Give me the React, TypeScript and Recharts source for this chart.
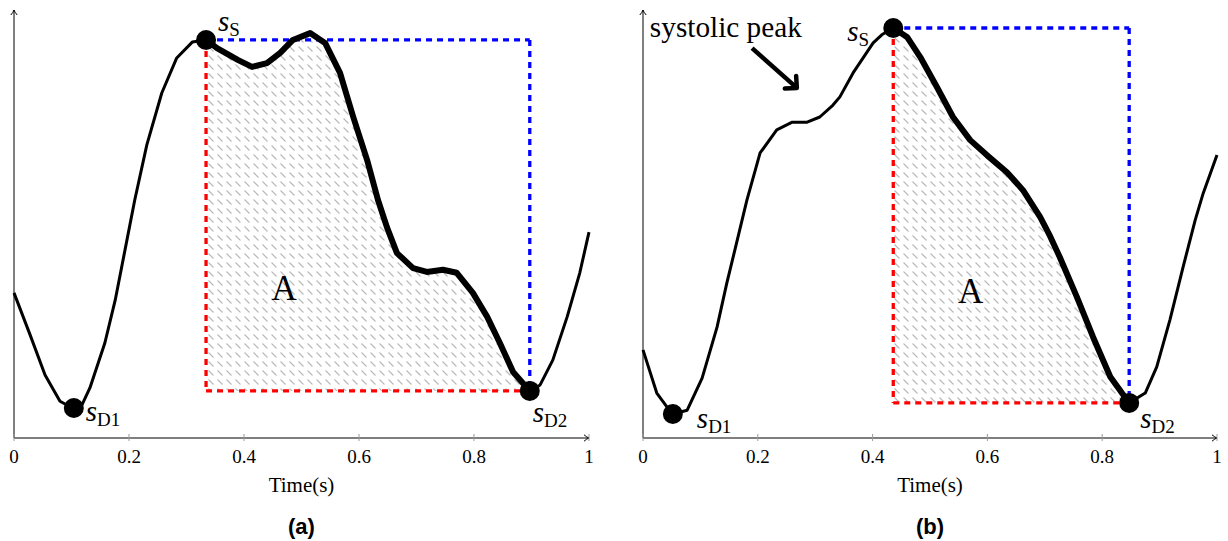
import {
  Area,
  ComposedChart,
  Line,
  ReferenceDot,
  ReferenceLine,
  XAxis,
  YAxis,
} from "recharts";

const SERIF = '"Liberation Serif", "DejaVu Serif", serif';
const SANS = '"Liberation Sans", Arial, sans-serif';

const TICKS = [0, 0.2, 0.4, 0.6, 0.8, 1];
const TICK_LABELS = ["0", "0.2", "0.4", "0.6", "0.8", "1"];

// panel (a): one pulse, time in s, amplitude normalised 0..1
const timeA = [
  0, 0.028, 0.054, 0.08, 0.092, 0.104, 0.118, 0.132, 0.158, 0.176, 0.193, 0.21, 0.231, 0.257, 0.283,
  0.31, 0.334, 0.353, 0.39, 0.414, 0.44, 0.463, 0.485, 0.515, 0.541, 0.567, 0.59, 0.614, 0.633,
  0.649, 0.666, 0.694, 0.718, 0.746, 0.77, 0.798, 0.823, 0.845, 0.868, 0.897, 0.915, 0.937, 0.962,
  0.984, 1,
];
const signalA = [
  0.339, 0.241, 0.147, 0.086, 0.077, 0.07, 0.077, 0.117, 0.222, 0.322, 0.439, 0.556, 0.685, 0.806,
  0.888, 0.925, 0.93, 0.911, 0.883, 0.867, 0.876, 0.9, 0.93, 0.946, 0.923, 0.853, 0.75, 0.65,
  0.556, 0.491, 0.432, 0.397, 0.388, 0.393, 0.386, 0.339, 0.283, 0.222, 0.154, 0.11, 0.124, 0.182,
  0.283, 0.386, 0.481,
];
// indices of s_D1, s_S, s_D2
const keyA = { d1: 5, s: 16, d2: 39 };

// panel (b)
const timeB = [
  0, 0.024, 0.042, 0.052, 0.077, 0.103, 0.129, 0.146, 0.16, 0.181, 0.204, 0.233, 0.26, 0.286, 0.308,
  0.331, 0.343, 0.366, 0.387, 0.401, 0.416, 0.436, 0.46, 0.483, 0.512, 0.54, 0.57, 0.599, 0.634,
  0.662, 0.692, 0.709, 0.726, 0.756, 0.784, 0.814, 0.847, 0.875, 0.895, 0.918, 0.941, 0.962, 0.976,
  1,
];
const signalB = [
  0.206, 0.105, 0.072, 0.056, 0.065, 0.14, 0.259, 0.362, 0.439, 0.556, 0.666, 0.72, 0.738, 0.738,
  0.75, 0.778, 0.797, 0.853, 0.895, 0.923, 0.942, 0.958, 0.937, 0.89, 0.82, 0.75, 0.696, 0.661,
  0.621, 0.579, 0.516, 0.472, 0.423, 0.329, 0.236, 0.143, 0.082, 0.105, 0.166, 0.276, 0.4, 0.509,
  0.572, 0.661,
];
const keyB = { d1: 3, s: 21, d2: 36 };

const areaLabelA = { t: 0.47, v: 0.322 };
const areaLabelB = { t: 0.571, v: 0.315 };
const peakNote = { text: "systolic peak", t: 0.012, v: 0.937 };
const peakArrow = [
  { x: 0.19, y: 0.911 },
  { x: 0.268, y: 0.818 },
];

type Key = { d1: number; s: number; d2: number };
type Offset = { dx: number; dy: number; sub: string };

function buildRows(time: number[], signal: number[], k: Key) {
  return time.map((t, i) => ({
    t,
    signal: signal[i],
    thick: i >= k.s && i <= k.d2 ? signal[i] : null,
  }));
}

function SubText({ x, y, sub }: { x: number; y: number; sub: string }) {
  return (
    <text x={x} y={y} fontFamily={SERIF} fill="#000">
      <tspan fontStyle="italic" fontSize={29}>
        s
      </tspan>
      <tspan fontSize={19} dy={5}>
        {sub}
      </tspan>
    </text>
  );
}

function TimeTick(props: any) {
  const { x, y, payload } = props;
  const i = TICKS.indexOf(payload.value);
  return (
    <g>
      <line x1={x} x2={x} y1={y - 4} y2={y + 3} stroke="#9a9a9a" strokeWidth={1} />
      <text x={x} y={y + 25} textAnchor="middle" fontFamily={SERIF} fontSize={19} fill="#000">
        {i >= 0 ? TICK_LABELS[i] : payload.value}
      </text>
    </g>
  );
}

function Panel({
  id,
  time,
  signal,
  k,
  left,
  yAxisWidth,
  marginRight,
  areaLabel,
  offsets,
  note,
}: {
  id: string;
  time: number[];
  signal: number[];
  k: Key;
  left: number;
  yAxisWidth: number;
  marginRight: number;
  areaLabel: { t: number; v: number };
  offsets: { d1: Offset; s: Offset; d2: Offset };
  note?: boolean;
}) {
  const rows = buildRows(time, signal, k);
  const tS = time[k.s];
  const yS = signal[k.s];
  const tD2 = time[k.d2];
  const yD2 = signal[k.d2];
  const dash = { strokeDasharray: "6 5", strokeWidth: 3.3 };

  const dot = (idx: number, o: Offset) => (
    <ReferenceDot
      x={time[idx]}
      y={signal[idx]}
      r={10}
      isFront
      shape={(p: any) => (
        <g>
          <circle cx={p.cx} cy={p.cy} r={10} fill="#000" />
          <SubText x={p.cx + o.dx} y={p.cy + o.dy} sub={o.sub} />
        </g>
      )}
    />
  );

  return (
    <div style={{ position: "absolute", left, top: 0 }}>
      <ComposedChart
        width={614}
        height={541}
        data={rows}
        margin={{ top: 10, right: marginRight, bottom: 43, left: 0 }}
      >
        <defs>
          <pattern id={`hatch-${id}`} patternUnits="userSpaceOnUse" width={9} height={9}>
            <path d="M1.5,1.5 L6.5,6.5" stroke="#b8b8b8" strokeWidth={1.1} />
          </pattern>
          <marker
            id={`ax-${id}`}
            markerUnits="userSpaceOnUse"
            viewBox="-7 -5 9 10"
            refX={0}
            refY={0}
            markerWidth={9}
            markerHeight={10}
            orient="auto-start-reverse"
            overflow="visible"
          >
            <path d="M-5,-3.2 Q-2,-0.6 0,0 Q-2,0.6 -5,3.2" fill="none" stroke="#000" strokeWidth={1} />
          </marker>
          <marker
            id={`pk-${id}`}
            markerUnits="userSpaceOnUse"
            viewBox="-12 -12 16 24"
            refX={0}
            refY={0}
            markerWidth={16}
            markerHeight={24}
            orient="auto"
            overflow="visible"
          >
            <path
              d="M-8.5,-8.5 L0,0 L-8.5,8.5"
              fill="none"
              stroke="#000"
              strokeWidth={4.5}
              strokeLinecap="round"
              strokeLinejoin="round"
            />
          </marker>
        </defs>
        <XAxis
          type="number"
          dataKey="t"
          domain={[0, 1]}
          ticks={TICKS}
          height={60}
          tickSize={0}
          tickMargin={0}
          tick={(p: any) => <TimeTick {...p} />}
          tickLine={false}
          axisLine={{ stroke: "#000", strokeWidth: 1, markerEnd: `url(#ax-${id})` }}
          label={{
            content: (p: any) => {
              const vb = p.viewBox || { x: 0, y: 438, width: 575 };
              return (
                <text
                  x={vb.x + vb.width / 2}
                  y={vb.y + 54}
                  textAnchor="middle"
                  fontFamily={SERIF}
                  fontSize={21}
                  fill="#000"
                >
                  Time(s)
                </text>
              );
            },
          }}
        />
        <YAxis
          type="number"
          domain={[0, 1]}
          width={yAxisWidth}
          tick={false}
          tickLine={false}
          axisLine={{ stroke: "#000", strokeWidth: 1, markerStart: `url(#ax-${id})` }}
        />
        <Area
          type="linear"
          dataKey="thick"
          baseValue={yD2}
          fill={`url(#hatch-${id})`}
          fillOpacity={1}
          stroke="none"
          isAnimationActive={false}
          activeDot={false}
        />
        <ReferenceLine segment={[{ x: tS, y: yS }, { x: tD2, y: yS }]} stroke="#0000ff" {...dash} />
        <ReferenceLine segment={[{ x: tD2, y: yS }, { x: tD2, y: yD2 }]} stroke="#0000ff" {...dash} />
        <ReferenceLine segment={[{ x: tS, y: yS }, { x: tS, y: yD2 }]} stroke="#ff0000" {...dash} />
        <ReferenceLine segment={[{ x: tS, y: yD2 }, { x: tD2, y: yD2 }]} stroke="#ff0000" {...dash} />
        <Line
          type="linear"
          dataKey="signal"
          stroke="#000"
          strokeWidth={3}
          strokeLinejoin="round"
          dot={false}
          activeDot={false}
          isAnimationActive={false}
        />
        <Line
          type="linear"
          dataKey="thick"
          stroke="#000"
          strokeWidth={6}
          strokeLinejoin="round"
          dot={false}
          activeDot={false}
          isAnimationActive={false}
        />
        <ReferenceDot
          x={areaLabel.t}
          y={areaLabel.v}
          r={0}
          shape={(p: any) => (
            <text x={p.cx} y={p.cy} textAnchor="middle" fontFamily={SERIF} fontSize={35} fill="#000">
              A
            </text>
          )}
        />
        {note && (
          <ReferenceDot
            x={peakNote.t}
            y={peakNote.v}
            r={0}
            shape={(p: any) => (
              <text x={p.cx} y={p.cy} fontFamily={SERIF} fontSize={29} fill="#000" textLength={152} lengthAdjust="spacingAndGlyphs">
                {peakNote.text}
              </text>
            )}
          />
        )}
        {note && (
          <ReferenceLine
            segment={peakArrow}
            stroke="#000"
            strokeWidth={4.5}
            markerEnd={`url(#pk-${id})`}
          />
        )}
        {dot(k.d1, offsets.d1)}
        {dot(k.s, offsets.s)}
        {dot(k.d2, offsets.d2)}
      </ComposedChart>
    </div>
  );
}

export default function App() {
  return (
    <div style={{ position: "absolute", left: 0, top: 0, width: 1228, height: 541, background: "#fff" }}>
      <Panel
        id="a"
        time={timeA}
        signal={signalA}
        k={keyA}
        left={0}
        yAxisWidth={14}
        marginRight={25}
        areaLabel={areaLabelA}
        offsets={{
          d1: { dx: 12, dy: 13, sub: "D1" },
          s: { dx: 12, dy: -9, sub: "S" },
          d2: { dx: 3, dy: 31, sub: "D2" },
        }}
      />
      <Panel
        id="b"
        time={timeB}
        signal={signalB}
        k={keyB}
        left={614}
        yAxisWidth={29}
        marginRight={11}
        areaLabel={areaLabelB}
        offsets={{
          d1: { dx: 24, dy: 14, sub: "D1" },
          s: { dx: -46, dy: 13, sub: "S" },
          d2: { dx: 11, dy: 25, sub: "D2" },
        }}
        note
      />
      <svg
        width={1228}
        height={541}
        style={{ position: "absolute", left: 0, top: 0, pointerEvents: "none" }}
      >
        <text x={301.5} y={534} textAnchor="middle" fontFamily={SANS} fontWeight="bold" fontSize={22} fill="#000">
          (a)
        </text>
        <text x={930} y={534} textAnchor="middle" fontFamily={SANS} fontWeight="bold" fontSize={22} fill="#000">
          (b)
        </text>
      </svg>
    </div>
  );
}
